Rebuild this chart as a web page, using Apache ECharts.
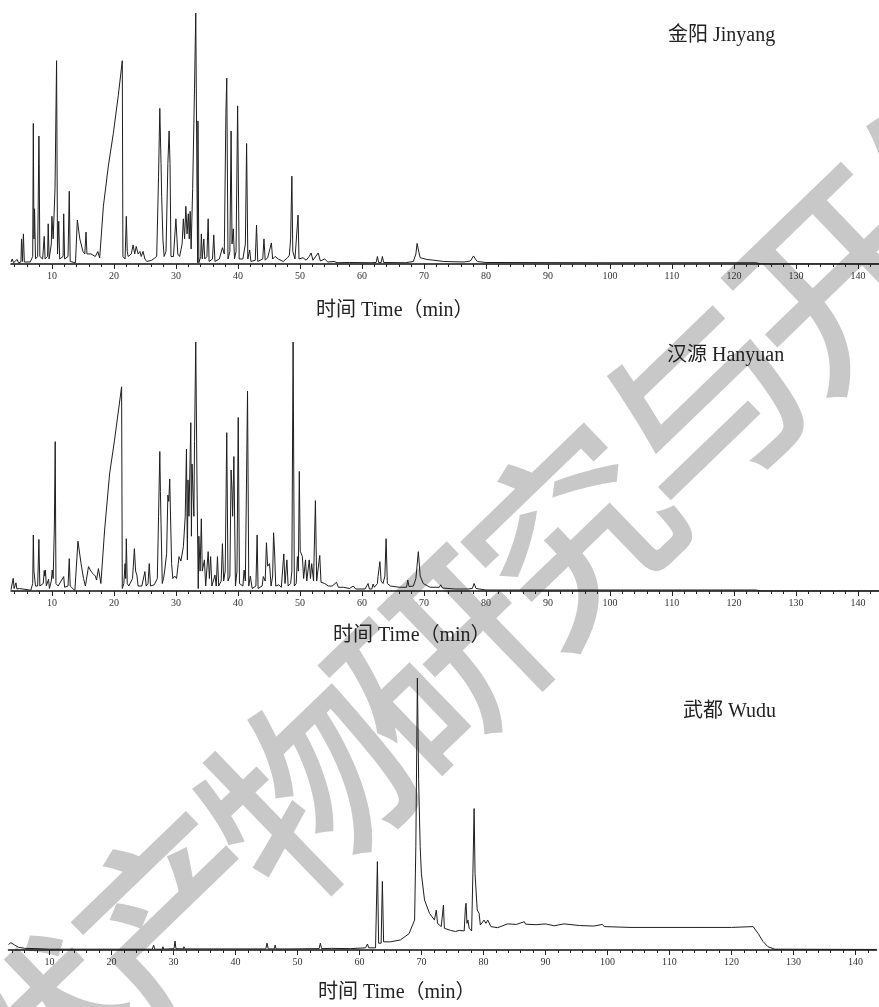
<!DOCTYPE html>
<html>
<head>
<meta charset="utf-8">
<script src="https://cdn.jsdelivr.net/npm/echarts@6/dist/echarts.min.js"></script>
<style>
html,body{margin:0;padding:0;background:#fff;}
#chart{width:879px;height:1007px;}
</style>
</head>
<body>
<div id="chart"></div>
<script>
// ---- data (retention time in min, relative abundance %) ----
const sampleNames = ['金阳 Jinyang', '汉源 Hanyuan', '武都 Wudu'];
const axisName = '时间 Time（min）';
const tickLabels = [10,20,30,40,50,60,70,80,90,100,110,120,130,140];
const minorTickValues = [4,6,8,10,12,14,16,18,20,22,24,26,28,30,32,34,36,38,40,42,44,46,48,50,52,54,56,58,60,62,64,66,68,70,72,74,76,78,80,82,84,86,88,90,92,94,96,98,100,102,104,106,108,110,112,114,116,118,120,122,124,126,128,130,132,134,136,138,140,142];
const watermarkChars = ['天','然','产','物','研','究','与','开','发'];

const jinyang = [
[3.4,0.8],[3.6,2],[3.8,0.5],[4.4,1.8],[4.6,0.5],[5.0,0.8],[5.1,10],[5.25,1],[5.4,12],[5.55,0.8],[6.5,0.8],[6.9,3],[7.0,56],[7.1,10],[7.2,22],[7.35,2],[7.7,3],[7.9,51],[7.95,40],[8.05,3],[8.5,2],[8.76,11],[8.9,2],[9.3,3],[9.4,16],[9.55,2],[9.9,8],[10.0,19],[10.2,10],[10.5,30],[10.75,81],[10.9,4],[11.1,17],[11.25,2],[11.8,3],[11.9,20],[12.05,2],[12.6,3],[12.8,29],[12.95,1],[13.8,0.5],[14.1,17.5],[14.5,10],[15.0,5],[15.3,4],[15.5,12.7],[15.65,4],[16.3,4],[17.0,3],[17.4,5],[17.7,2.4],[18.3,23],[19.1,39],[19.9,52],[20.7,67],[21.35,81],[21.45,3],[21.8,2],[22.0,19],[22.15,5],[22.3,3],[22.8,4],[23.1,7.6],[23.35,4],[23.6,7],[23.9,4],[24.2,5],[24.4,3],[24.7,5],[25.0,2],[25.3,1],[26.1,1.5],[26.9,3],[27.2,35],[27.4,62],[27.6,40],[27.7,27],[27.9,10],[28.1,3],[28.4,5],[28.7,40],[28.9,53],[29.05,40],[29.2,3],[29.6,3],[30.0,18],[30.3,4],[30.6,3],[31.0,8],[31.2,18],[31.4,10],[31.6,23],[31.8,12],[32.0,20],[32.15,10],[32.3,21],[32.45,6],[32.7,30],[33.0,70],[33.2,100],[33.4,30],[33.5,0.5],[33.55,57],[33.7,0.5],[34.0,3],[34.1,12],[34.25,2],[34.5,10],[34.65,2],[35.0,3],[35.2,18],[35.35,1],[35.9,2],[36.1,11.6],[36.3,1],[37.0,2],[37.5,6.5],[37.8,4],[38.06,60],[38.2,74],[38.4,2],[38.7,5],[38.9,53],[39.05,8],[39.25,14],[39.45,2],[39.7,5],[39.95,63],[40.2,2],[40.8,2],[41.2,8],[41.4,48],[41.6,2],[41.9,5.6],[42.1,1],[42.8,1.5],[43.0,15.5],[43.2,1],[44.0,2],[44.2,10],[44.4,1.5],[44.8,2.5],[45.1,3],[45.4,8.4],[45.6,2],[46.0,3],[46.5,2],[47.3,1],[48.0,2.5],[48.3,3.5],[48.5,10],[48.7,35],[48.85,5],[49.2,2],[49.7,19.5],[49.85,2],[50.5,2.5],[51.0,1.5],[51.5,3],[51.8,4.4],[52.1,1.5],[52.95,4.4],[53.3,1.2],[54.0,2],[54.5,0.8],[55.5,1],[56.0,0.5],[58.0,0.6],[61.5,0.5],[62.3,0.6],[62.5,3],[62.7,0.6],[63.1,0.6],[63.3,3],[63.5,0.6],[67.0,0.5],[68.3,1],[68.7,4],[68.9,8.2],[69.2,4.5],[69.4,2.5],[70.5,1.8],[71.6,1.5],[73.2,1],[76.5,0.8],[77.5,1.2],[78.0,3.2],[78.3,2],[78.6,1],[80.0,0.6],[100,0.5],[123.5,0.5],[124.5,0],[143.4,0]
];

const hanyuan = [
[3.4,0.5],[3.7,1],[3.76,5.1],[3.9,1],[4.2,3.3],[4.35,0.8],[4.8,1],[5.0,0.3],[6.6,0.3],[6.9,3],[7.0,22.5],[7.1,8],[7.2,8.7],[7.35,2],[7.7,2],[7.9,20.7],[8.05,2],[8.6,3],[8.76,8.2],[8.85,6],[8.95,8.4],[9.1,2],[9.45,4.7],[9.6,1],[9.9,4],[10.05,8.4],[10.2,5],[10.4,26.5],[10.53,60],[10.65,3],[11.0,2],[11.3,1.5],[11.9,5.8],[12.05,1.5],[12.6,2],[12.8,13],[12.95,2],[13.7,0.2],[14.2,20],[14.7,11],[15.1,5],[15.4,2],[15.9,9.8],[16.3,8],[16.6,7],[17.0,6],[17.2,4.4],[17.5,9],[17.9,3],[18.5,24.5],[19.3,47],[20.1,60.6],[21.24,82],[21.35,1],[21.6,3],[21.8,11],[21.9,5],[22.0,21],[22.15,3],[22.4,2],[23.0,5],[23.3,17],[23.5,8],[23.7,6.4],[23.9,2],[24.5,2],[25.0,7.8],[25.2,2],[25.5,3],[25.7,11],[25.9,2],[26.5,2.5],[27.0,5],[27.2,30],[27.4,56],[27.5,40],[27.6,27],[27.8,3],[28.0,5],[28.2,8.4],[28.5,15],[28.7,38.5],[28.85,36],[29.0,45],[29.3,11],[29.5,5],[29.8,6],[30.1,5],[30.5,13.8],[30.8,12],[31.2,17.8],[31.5,30],[31.7,57],[31.85,12.5],[31.95,44.6],[32.1,30],[32.4,67.6],[32.5,22],[32.6,51],[32.9,30],[33.0,60],[33.2,100],[33.4,43],[33.6,1],[33.7,22],[33.9,8],[34.1,29],[34.25,8],[34.6,12.5],[34.8,2],[35.2,15.8],[35.4,5],[35.6,13.8],[35.8,2],[36.3,6.4],[36.5,2],[36.7,13.8],[36.9,2],[37.3,4],[37.5,19],[37.7,4],[37.95,8],[38.2,63.6],[38.4,4],[38.7,6],[38.9,48.6],[39.05,40],[39.15,30],[39.35,54],[39.6,2],[39.85,8],[40.05,69.7],[40.25,3],[40.8,2],[41.0,8.4],[41.2,4],[41.55,80.3],[41.75,2],[42.0,6],[42.3,1],[42.9,2],[43.1,22.5],[43.25,1],[43.9,2],[44.1,5.8],[44.4,4],[44.6,19.4],[44.8,10],[45.1,11],[45.35,2],[45.6,6],[45.75,23.4],[45.9,16.5],[46.1,2],[46.6,2.5],[47.0,1.5],[47.4,14.9],[47.6,3],[47.9,12.5],[48.1,2],[48.5,3],[48.7,8],[48.9,100],[49.1,2],[49.4,3],[49.6,13.8],[49.75,8],[49.9,48],[50.05,16],[50.4,13.8],[50.6,5],[50.9,12.5],[51.1,4],[51.5,12.5],[51.7,5],[51.9,11],[52.2,4],[52.5,36.3],[52.7,4],[53.2,14.3],[53.4,3.5],[54.0,3],[54.3,3.5],[54.6,2],[55.2,2],[55.9,3.5],[56.2,1.5],[57.0,1.5],[58.0,1],[58.6,2],[59.0,0.8],[60.5,0.8],[61.0,3],[61.2,0.8],[61.6,0.8],[61.8,2.8],[62.0,1.5],[62.5,3],[62.6,5.8],[62.9,11.8],[63.1,4],[63.4,3],[63.7,6],[63.9,21],[64.1,3],[64.6,2],[66.0,1.5],[67.2,1.5],[67.4,4.4],[67.6,1.8],[68.3,2],[68.7,5],[69.1,15.8],[69.4,6],[69.9,3],[71.0,1.5],[72.5,1.5],[72.7,2.5],[73.0,1.2],[75.0,0.8],[77.0,0.8],[77.8,1],[78.1,3],[78.4,1],[80.0,0.4],[100,0.4],[123.5,0.4],[124.5,0],[143.4,0]
];

const wudu = [
[3.4,2],[3.8,2.7],[4.4,1.8],[5.0,1],[6.0,0.6],[8.0,0.5],[10.0,0.3],[20,0.3],[26.6,0.3],[26.8,1.8],[27.0,0.3],[28.2,0.3],[28.3,1.2],[28.45,0.3],[30.1,0.5],[30.26,3.3],[30.4,0.5],[31.6,0.4],[31.7,1.2],[31.85,0.4],[40,0.4],[44.9,0.4],[45.1,2.5],[45.3,0.4],[46.3,0.4],[46.4,1.8],[46.55,0.4],[48.8,0.4],[48.9,1],[49.0,0.4],[53.5,0.5],[53.7,2.5],[53.9,0.5],[55.5,0.6],[58.6,0.5],[61.0,0.8],[61.3,2.2],[61.5,0.8],[62.6,0.8],[62.9,32.5],[63.1,2.5],[63.5,2.5],[63.7,25.2],[63.9,3],[65.0,3],[66.6,3.7],[68.0,6],[68.9,11],[69.1,38],[69.35,100],[69.55,62.6],[69.8,38],[70.0,28],[70.5,18.4],[71.3,13.5],[72.1,11],[72.4,14.7],[72.6,9.8],[73.2,8.6],[73.4,9],[73.55,16.5],[73.7,8],[74.7,7.2],[75.5,6.8],[76.1,7.2],[76.9,7],[77.1,16],[77.2,17.2],[77.35,9.8],[77.5,11],[77.7,8],[78.1,7],[78.3,28],[78.5,52],[78.65,28],[78.85,27.6],[79.0,14.7],[79.3,13.5],[79.5,9.2],[80.1,11],[80.4,9.8],[80.7,11],[81.2,8.6],[82.3,8.2],[83.9,9.6],[85.3,9.4],[86.6,10.4],[86.8,9.5],[88.5,9.3],[90.0,9.6],[91.4,8.9],[93.0,9.6],[93.3,9.1],[95.5,9.0],[97.8,8.8],[99.2,9.4],[99.5,8.6],[103.8,8.3],[114.6,8.3],[120.0,8.3],[123.5,8.6],[124.3,6.1],[125.1,3.1],[125.9,1.2],[127.0,0.3],[143.4,0.2]
];

// ---- chart ----
const chart = echarts.init(document.getElementById('chart'), null, {renderer: 'canvas'});
const serif = "'Liberation Serif','Noto Sans CJK SC',serif";
const grids = [
  {left: 11, width: 868, top: 13, height: 251},
  {left: 11, width: 868, top: 342, height: 249},
  {left: 8.5, width: 868, top: 678, height: 272}
];
const xMin = 3.4, xMax = 143.4;
const xAxes = [], yAxes = [], series = [];
[jinyang, hanyuan, wudu].forEach(function (d, i) {
  xAxes.push({
    type: 'value', gridIndex: i, position: 'bottom', min: xMin, max: xMax,
    axisLine: {show: true, onZero: false, lineStyle: {color: '#111', width: 1.5}},
    axisTick: {show: true, customValues: minorTickValues, length: 3, lineStyle: {color: '#222', width: 1}},
    axisLabel: {show: true, customValues: tickLabels, margin: 7, fontSize: 10, color: '#333', fontFamily: serif},
    splitLine: {show: false}
  });
  xAxes.push({
    type: 'value', gridIndex: i, position: 'bottom', min: xMin, max: xMax,
    axisLine: {show: false, onZero: false},
    axisTick: {show: true, customValues: tickLabels, length: 5, lineStyle: {color: '#222', width: 1}},
    axisLabel: {show: false},
    splitLine: {show: false}
  });
  yAxes.push({type: 'value', gridIndex: i, min: 0, max: 100, show: false});
  series.push({
    type: 'line', xAxisIndex: i * 2, yAxisIndex: i, data: d,
    symbol: 'none', smooth: false, z: 5,
    lineStyle: {color: '#1e1e1e', width: 1}
  });
});

const labelPos = [[668, 36], [667, 356], [683, 712]];
const namePos = [[316, 311], [333, 636], [318, 993]];
const graphics = [];
// watermark: characters along a 44-degree diagonal, '研' centred at (440, 662)
watermarkChars.forEach(function (c, k) {
  graphics.push({
    type: 'text', x: 440 + (k - 4) * 132, y: 662 - (k - 4) * 128,
    rotation: Math.PI * 44 / 180, z: -10, silent: true,
    style: {text: c, font: '500 200px "Noto Sans CJK SC"', fill: '#c8c8c8', align: 'center', verticalAlign: 'middle'}
  });
});
sampleNames.forEach(function (n, i) {
  graphics.push({type: 'text', x: labelPos[i][0], y: labelPos[i][1], z: 10,
    style: {text: n, font: '20px ' + serif, fill: '#222', align: 'left', verticalAlign: 'middle'}});
  graphics.push({type: 'text', x: namePos[i][0], y: namePos[i][1], z: 10,
    style: {text: axisName, font: '20px ' + serif, fill: '#222', align: 'left', verticalAlign: 'middle'}});
});

chart.setOption({
  backgroundColor: '#fff',
  animation: false,
  grid: grids,
  xAxis: xAxes,
  yAxis: yAxes,
  series: series,
  graphic: graphics
});
</script>
</body>
</html>
